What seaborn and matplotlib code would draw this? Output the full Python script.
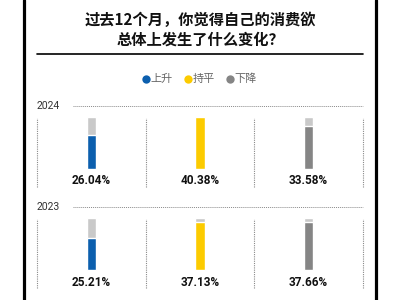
import matplotlib
matplotlib.use("Agg")
import matplotlib.pyplot as plt
import matplotlib.transforms as mtrans
from matplotlib.lines import Line2D
import seaborn as sns
import pandas as pd

# ---- data ----
categories = ["上升", "持平", "下降"]
years = ["2024", "2023"]
values_2024 = [26.04, 40.38, 33.58]
values_2023 = [25.21, 37.13, 37.66]
title_lines = ["过去12个月，你觉得自己的消费欲", "总体上发生了什么变化？"]

colors = ["#0c5fae", "#fccb00", "#858585"]
bg_color = "#c9c9c9"

sns.set_theme(style="white")
plt.rcParams["font.family"] = ["Noto Sans CJK SC", "DejaVu Sans"]

W, H = 400, 300
fig = plt.figure(figsize=(4, 3), dpi=100)
fig.patch.set_facecolor("white")

M = max(values_2024 + values_2023)

def fx(px):
    return px / W

def fy(py):
    return 1 - py / H

# frame side lines
for xp in (23.5, 375.5):
    fig.add_artist(Line2D([fx(xp)] * 2, [0, 1], color="black", lw=2.3))

# title
for i, line in enumerate(title_lines):
    fig.text(0.5, fy(20 + 20 * i), line, ha="center", va="center",
             fontsize=11, fontweight="bold", color="#111111")
fig.add_artist(Line2D([fx(37), fx(363)], [fy(54)] * 2, color="black", lw=1.2))

# legend
leg_x = [145.7, 187.7, 229.5]
for cx, cat, col in zip(leg_x, categories, colors):
    fig.add_artist(Line2D([fx(cx)], [fy(79)], marker="o", markersize=6,
                          color=col, markeredgewidth=0))
    fig.text(fx(cx + 4.5), fy(79), cat, ha="left", va="center",
             fontsize=8, color="#666666")

# panels
panel_tops = [106, 207]
axes_h = 81
s = M / 52.0
for year, vals, top in zip(years, [values_2024, values_2023], panel_tops):
    bottom = top + axes_h
    ax = fig.add_axes([fx(37), fy(bottom), fx(363) - fx(37), axes_h / H])
    df_bg = pd.DataFrame({"cat": categories, "v": [M] * 3})
    df = pd.DataFrame({"cat": categories, "v": vals})
    sns.barplot(data=df_bg, x="cat", y="v", color=bg_color, width=0.083,
                ax=ax, saturation=1)
    sns.barplot(data=df, x="cat", y="v", hue="cat", palette=colors,
                width=0.083, ax=ax, saturation=1, legend=False)
    ax.set_xlim(-0.5, 2.5)
    ymin = -18 * s
    ax.set_ylim(ymin, ymin + axes_h * s)
    ax.axis("off")
    for xv in [-0.5, 0.5, 1.5, 2.5]:
        ax.axvline(xv, ymin=0, ymax=69 / axes_h, ls=(0, (1, 1)),
                   color="#8a8a8a", lw=0.8, clip_on=False)
    ax.plot([0.11, 1], [1, 1], transform=ax.transAxes, ls=(0, (1, 1)),
            color="#8a8a8a", lw=0.7, clip_on=False)
    ax.text(0, 1, year, transform=ax.transAxes, ha="left", va="center",
            fontsize=7.5, color="#333333", family=["Roboto", "DejaVu Sans"])
    trans = mtrans.blended_transform_factory(ax.transData, ax.transAxes)
    for i, v in enumerate(vals):
        ax.text(i, 6 / axes_h, f"{v:.2f}%", transform=trans, ha="center",
                va="center", fontsize=8.5, fontweight="bold", color="#111111",
                family=["Roboto", "DejaVu Sans"])

fig.savefig("out.png", dpi=100)
